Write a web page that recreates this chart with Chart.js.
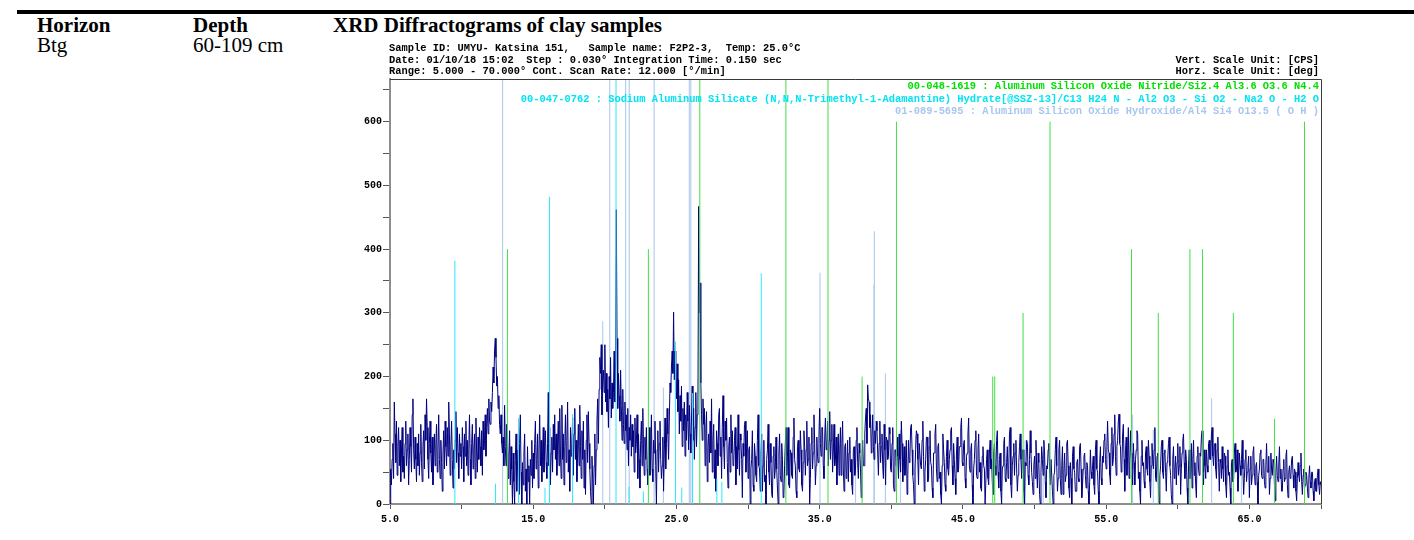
<!DOCTYPE html>
<html>
<head>
<meta charset="utf-8">
<script src="https://cdn.jsdelivr.net/npm/chart.js@4.4.1/dist/chart.umd.min.js"></script>
<style>
  body { margin: 0; background: #fff; }
  #wrap { position: relative; width: 1414px; height: 540px; overflow: hidden; }
  canvas { position: absolute; left: 0; top: 0; }
  .t { position: absolute; white-space: pre; }
  .head { font-family: "Liberation Serif", "Times New Roman", serif; font-size: 21px; line-height: 21px; color: #000; }
  .mono { font-family: "Liberation Mono", "DejaVu Sans Mono", monospace; font-weight: bold; font-size: 10.4px; line-height: 12px; color: #000; }
  #rule { position: absolute; left: 17px; top: 10px; width: 1397px; height: 4px; background: #000; }
</style>
</head>
<body>
<div id="wrap">
  <div id="rule"></div>
  <div class="t head" style="left:37px;top:15px;font-weight:bold">Horizon</div>
  <div class="t head" style="left:193px;top:15px;font-weight:bold">Depth</div>
  <div class="t head" style="left:333px;top:15px;font-weight:bold">XRD Diffractograms of clay samples</div>
  <div class="t head" style="left:37px;top:35px">Btg</div>
  <div class="t head" style="left:193px;top:35px">60-109 cm</div>
  <canvas id="xrd" width="1414" height="540"></canvas>
  <div id="info"></div>
  <div id="refs"></div>
</div>
<script>
// === CABEÇALHO DA MEDIDA ===
const infoLeft = [
  "Sample ID: UMYU- Katsina 151,   Sample name: F2P2-3,  Temp: 25.0°C",
  "Date: 01/10/18 15:02  Step : 0.030° Integration Time: 0.150 sec",
  "Range: 5.000 - 70.000° Cont. Scan Rate: 12.000 [°/min]"
];
const infoRight = ["Vert. Scale Unit: [CPS]", "Horz. Scale Unit: [deg]"];

// === VARREDURA (CPS a cada 0.05°, de 5.00 a 70.00, uma linha por grau) ===
const scanStart = 5.0;
const scanStep = 0.05;
const counts = [
  0, 55, 30, 70, 95, 40, 160, 110, 65, 130, 45, 90, 120, 60, 100, 35, 80, 120, 50, 75,
  40, 95, 130, 60, 85, 110, 30, 70, 120, 90, 50, 140, 165, 85, 55, 105, 70, 35, 95, 60,
  110, 45, 80, 125, 65, 35, 90, 115, 55, 140, 100, 165, 120, 70, 40, 95, 130, 80, 50, 105,
  30, 75, 110, 60, 95, 125, 50, 85, 140, 70, 40, 100, 65, 20, 80, 115, 55, 130, 90, 60,
  120, 75, 160, 110, 45, 90, 130, 70, 25, 85, 55, 100, 145, 65, 120, 80, 40, 110, 75, 95,
  55, 120, 90, 35, 110, 75, 130, 60, 100, 45, 85, 140, 70, 30, 95, 125, 55, 85, 110, 40,
  135, 80, 50, 105, 70, 120, 90, 60, 115, 45, 130, 85, 100, 140, 75, 120, 150, 110, 165, 130,
  125, 160, 145, 175, 215, 190, 240, 260, 230, 185, 200, 150, 170, 125, 110, 140, 95, 80, 105, 60,
  155, 90, 60, 125, 100, 40, 75, 115, 30, 90, 55, 0, 80, 35, 0, 70, 110, 20, 60, 85,
  15, 95, 140, 50, 0, 65, 30, 80, 110, 20, 55, 0, 90, 35, 60, 0, 70, 45, 100, 25,
  80, 40, 95, 130, 55, 70, 110, 25, 85, 140, 60, 100, 35, 75, 120, 50, 90, 115, 65, 40,
  95, 175, 60, 120, 30, 80, 105, 50, 125, 85, 140, 70, 110, 45, 95, 130, 60, 150, 80, 40,
  155, 70, 110, 30, 90, 140, 65, 100, 160, 50, 85, 20, 120, 75, 95, 135, 45, 110, 150, 70,
  100, 35, 80, 125, 60, 155, 90, 40, 115, 70, 130, 25, 85, 15, 100, 140, 65, 145, 95, 55,
  20, 0, 75, 40, 0, 60, 110, 30, 85, 130, 165, 95, 180, 230, 205, 250, 140, 195, 210, 175,
  250, 160, 205, 145, 180, 120, 200, 165, 230, 135, 190, 150, 175, 240, 160, 225, 462, 260, 150, 205,
  170, 130, 210, 155, 100, 180, 125, 95, 160, 115, 140, 85, 150, 60, 120, 100, 140, 75, 125, 90,
  115, 50, 135, 80, 95, 140, 40, 110, 70, 25, 100, 130, 60, 150, 85, 45, 105, 70, 120, 55,
  30, 90, 120, 45, 75, 140, 55, 35, 100, 80, 130, 60, 0, 85, 115, 50, 95, 130, 70, 40,
  60, 105, 20, 80, 135, 55, 95, 150, 110, 70, 130, 190, 175, 215, 240, 205, 301, 195, 240, 180,
  165, 220, 145, 195, 110, 170, 130, 185, 90, 150, 115, 160, 75, 140, 100, 175, 130, 85, 155, 110,
  80, 135, 185, 100, 150, 70, 120, 175, 90, 140, 160, 467, 300, 347, 190, 140, 100, 165, 125, 150,
  60, 120, 145, 35, 90, 110, 65, 130, 80, 165, 50, 100, 125, 40, 85, 20, 115, 95, 60, 140,
  150, 75, 105, 40, 120, 170, 90, 55, 130, 100, 135, 65, 25, 90, 105, 50, 140, 80, 115, 60,
  65, 100, 120, 30, 90, 55, 140, 85, 45, 110, 100, 70, 10, 95, 75, 125, 130, 50, 90, 115,
  40, 85, 90, 0, 55, 70, 115, 30, 20, 95, 75, 45, 35, 100, 140, 60, 55, 20, 80, 110,
  20, 60, 100, 35, 45, 0, 70, 85, 125, 50, 30, 95, 65, 15, 10, 75, 90, 40, 55, 105,
  55, 25, 0, 80, 110, 45, 35, 95, 70, 10, 15, 60, 95, 120, 45, 75, 120, 30, 25, 85,
  80, 45, 40, 105, 135, 70, 60, 20, 10, 90, 100, 55, 50, 115, 85, 30, 20, 65, 115, 90,
  45, 85, 130, 60, 70, 105, 0, 40, 95, 120, 55, 80, 140, 95, 30, 60, 105, 75, 65, 110,
  150, 95, 75, 120, 120, 60, 40, 105, 135, 85, 90, 130, 60, 100, 145, 70, 100, 125, 50, 80,
  125, 60, 70, 105, 30, 80, 110, 45, 85, 120, 45, 95, 130, 55, 20, 90, 95, 40, 60, 100,
  35, 80, 105, 50, 70, 30, 15, 85, 90, 45, 55, 100, 120, 65, 40, 95, 80, 55, 10, 70,
  100, 60, 60, 110, 135, 150, 95, 187, 165, 160, 120, 140, 80, 105, 140, 90, 70, 115, 95, 130,
  115, 80, 45, 95, 130, 65, 90, 110, 60, 40, 125, 85, 30, 105, 100, 70, 75, 120, 110, 55,
  50, 95, 120, 30, 20, 85, 85, 60, 105, 75, 40, 110, 70, 50, 130, 95, 35, 65, 90, 45,
  60, 100, 15, 40, 100, 65, 75, 120, 125, 85, 45, 30, 0, 55, 85, 115, 110, 70, 30, 95,
  95, 60, 55, 100, 130, 75, 20, 50, 70, 105, 105, 35, 40, 90, 115, 65, 60, 25, 10, 80,
  80, 110, 125, 55, 35, 90, 95, 40, 50, 15, 0, 60, 110, 85, 65, 30, 20, 75, 100, 55,
  45, 70, 85, 115, 120, 60, 30, 95, 70, 40, 15, 80, 105, 50, 55, 90, 90, 120, 135, 65,
  60, 95, 100, 40, 25, 75, 80, 110, 135, 60, 50, 85, 95, 30, 0, 55, 70, 100, 115, 45,
  40, 85, 110, 50, 65, 25, 20, 75, 90, 60, 55, 0, 0, 70, 85, 40, 30, 80, 100, 55,
  70, 35, 15, 80, 95, 60, 45, 100, 115, 50, 25, 70, 80, 20, 0, 55, 60, 95, 105, 40,
  35, 65, 90, 40, 55, 110, 120, 30, 10, 60, 75, 95, 45, 80, 100, 55, 20, 45, 65, 90,
  110, 70, 40, 85, 85, 20, 0, 65, 60, 100, 95, 45, 30, 70, 115, 80, 50, 35, 15, 60,
  75, 40, 100, 55, 25, 80, 65, 15, 0, 50, 90, 70, 45, 100, 80, 35, 10, 60, 55, 85,
  95, 55, 30, 70, 70, 20, 0, 45, 50, 85, 105, 60, 20, 40, 85, 100, 40, 15, 60, 90,
  15, 50, 80, 35, 45, 95, 100, 60, 25, 10, 65, 40, 0, 75, 90, 55, 50, 20, 20, 65,
  70, 40, 35, 90, 95, 55, 10, 30, 55, 75, 80, 45, 25, 65, 60, 20, 0, 35, 85, 50,
  40, 60, 75, 30, 15, 85, 100, 55, 50, 20, 0, 65, 90, 40, 30, 75, 65, 100, 110, 70,
  55, 90, 130, 85, 80, 45, 30, 95, 120, 60, 70, 110, 140, 75, 45, 90, 100, 130, 141, 95,
  90, 50, 60, 110, 125, 70, 20, 85, 105, 45, 75, 120, 40, 60, 115, 80, 55, 30, 95, 65,
  30, 70, 85, 115, 110, 40, 50, 20, 0, 75, 100, 60, 65, 35, 25, 80, 90, 55, 45, 100,
  75, 35, 10, 60, 95, 70, 55, 85, 120, 40, 35, 75, 80, 25, 0, 45, 60, 90, 100, 50,
  40, 80, 85, 50, 20, 65, 70, 95, 105, 60, 45, 15, 0, 70, 90, 40, 55, 75, 30, 65,
  95, 45, 60, 90, 15, 55, 80, 100, 110, 65, 40, 85, 70, 25, 0, 60, 85, 40, 50, 95,
  25, 70, 100, 45, 65, 30, 10, 75, 90, 55, 45, 80, 75, 105, 115, 50, 30, 85, 60, 40,
  85, 60, 50, 95, 100, 70, 70, 110, 120, 75, 60, 90, 95, 55, 40, 85, 105, 65, 20, 70,
  65, 40, 90, 55, 35, 80, 75, 30, 10, 60, 85, 45, 50, 25, 0, 65, 70, 35, 40, 80,
  95, 50, 55, 85, 20, 45, 80, 60, 45, 70, 100, 55, 15, 40, 70, 85, 35, 50, 60, 75,
  10, 55, 75, 30, 45, 80, 90, 50, 30, 60, 65, 35, 0, 45, 55, 80, 85, 45, 40, 70,
  70, 35, 25, 60, 95, 50, 50, 75, 15, 40, 80, 55, 45, 70, 65, 30, 5, 50, 75, 45,
  35, 60, 90, 40, 55, 20, 20, 55, 70, 35, 40, 75, 85, 30, 10, 50, 60, 40, 45, 70,
  75, 45, 25, 55, 50, 20, 5, 40, 65, 45, 35, 60, 80, 35, 15, 45, 55, 25, 30, 50,
  45, 25, 10, 40, 60, 35, 25, 50, 50, 20, 5, 35, 40, 20, 20, 45, 55, 30, 15, 35,
  30
];

// === FICHAS DE REFERÊNCIA (posição 2θ e altura) ===
const nitrideName = "00-048-1619 : Aluminum Silicon Oxide Nitride/Si2.4 Al3.6 O3.6 N4.4";
const nitrideAngles = [13.2, 23.04, 26.63, 32.64, 35.58, 37.96, 40.36, 47.08, 47.22, 49.2, 51.08, 56.77, 58.64, 60.85, 61.73, 63.88, 66.75, 68.85];
const nitrideHeights = [400, 400, 1000, 1000, 1000, 200, 600, 200, 200, 300, 600, 400, 300, 400, 400, 300, 134, 600];

const sodiumName = "00-047-0762 : Sodium Aluminum Silicate (N,N,N-Trimethyl-1-Adamantine) Hydrate[@SSZ-13]/C13 H24 N - Al2 O3 - Si O2 - Na2 O - H2 O";
const sodiumAngles = [9.53, 12.37, 13.97, 15.82, 16.14, 17.75, 20.78, 21.69, 22.69, 24.93, 25.37, 26.12, 27.82, 28.17, 30.92];
const sodiumHeights = [382, 32, 135, 25, 482, 141, 1000, 27, 20, 255, 26, 174, 40, 35, 362];

const hydroxideName = "01-089-5695 : Aluminum Silicon Oxide Hydroxide/Al4 Si4 O13.5 ( O H )";
const hydroxideAngles = [12.86, 19.85, 20.34, 21.45, 21.7, 23.44, 24.09, 25.9, 26.0, 35.02, 37.5, 38.78, 38.82, 39.59, 40.64, 41.69, 49.34, 50.6, 56.84, 58.29, 62.36, 64.45];
const hydroxideHeights = [1000, 287, 1000, 1000, 1000, 1000, 183, 1000, 1000, 363, 60, 344, 428, 205, 116, 108, 100, 82, 140, 116, 166, 69];

const xMin = 5, xMax = 70, xStepTick = 5;
const yMin = 0, yMax = 667, yStepTick = 50;

// === TEXTOS ===
const info = document.getElementById("info");
infoLeft.forEach((txt, i) => {
  info.innerHTML += `<div class="t mono" style="left:389px;top:${42 + i * 11.6}px">${txt}</div>`;
});
infoRight.forEach((txt, i) => {
  info.innerHTML += `<div class="t mono" style="right:95px;top:${53.5 + i * 11.6}px">${txt}</div>`;
});
const refs = document.getElementById("refs");
[[nitrideName, "#00e000"], [sodiumName, "#00e4f4"], [hydroxideName, "#a9c7ee"]].forEach(([txt, cor], i) => {
  refs.innerHTML += `<div class="t mono" style="right:95px;top:${80.3 + i * 12.5}px;color:${cor}">${txt}</div>`;
});

// === MONTA OS DADOS ===
function sticks(angles, heights) {
  const pts = [];
  angles.forEach((a, i) => {
    pts.push({ x: a, y: 0 }, { x: a, y: heights[i] }, { x: a, y: null });
  });
  return pts;
}
const tracePts = counts.map((c, i) => ({ x: +(scanStart + i * scanStep).toFixed(2), y: c }));

const tickFont = { family: "Liberation Mono", size: 10, weight: "bold" };

// moldura de cima e da direita
const moldura = {
  id: "moldura",
  afterDraw(chart) {
    const { ctx, chartArea: a } = chart;
    ctx.save();
    ctx.strokeStyle = "#3a3a3a";
    ctx.lineWidth = 1;
    ctx.beginPath();
    ctx.moveTo(a.left, a.top + 0.5);
    ctx.lineTo(a.right + 0.5, a.top + 0.5);
    ctx.lineTo(a.right + 0.5, a.bottom);
    ctx.stroke();
    ctx.restore();
  }
};

new Chart(document.getElementById("xrd"), {
  type: "line",
  data: {
    datasets: [
      { label: "nitride", data: sticks(nitrideAngles, nitrideHeights), borderColor: "#45dd45", borderWidth: 1, order: 0 },
      { label: "sodium", data: sticks(sodiumAngles, sodiumHeights), borderColor: "#2fe6fb", borderWidth: 1, order: 1 },
      { label: "scan", data: tracePts, borderColor: "#00007f", borderWidth: 1, order: 2 },
      { label: "hydroxide", data: sticks(hydroxideAngles, hydroxideHeights), borderColor: "rgba(140,180,230,0.65)", borderWidth: 1.2, order: 3 }
    ]
  },
  options: {
    responsive: false,
    animation: false,
    events: [],
    layout: { padding: { left: 350, right: 93, top: 79, bottom: 11 } },
    elements: { point: { radius: 0 }, line: { tension: 0 } },
    plugins: { legend: { display: false }, tooltip: { enabled: false } },
    scales: {
      x: {
        type: "linear", min: xMin, max: xMax,
        ticks: {
          stepSize: xStepTick, autoSkip: false, maxRotation: 0, color: "#000", font: tickFont, padding: 4,
          callback: v => ((v - xMin) % 10 === 0 ? v.toFixed(1) : "")
        },
        grid: { drawOnChartArea: false, drawTicks: true, tickLength: 5, color: "#555" },
        border: { color: "#8e8e8e", width: 2 },
        afterFit: s => { s.height = 25; }
      },
      y: {
        type: "linear", min: yMin, max: yMax,
        ticks: {
          stepSize: yStepTick, includeBounds: false, color: "#000", font: tickFont, padding: 1,
          callback: v => (v % 100 === 0 ? String(v) : "")
        },
        grid: { drawOnChartArea: false, drawTicks: true, tickLength: 7, color: "#555" },
        border: { color: "#8e8e8e", width: 2 },
        afterFit: s => { s.width = 40; }
      }
    }
  },
  plugins: [moldura]
});
</script>
</body>
</html>
